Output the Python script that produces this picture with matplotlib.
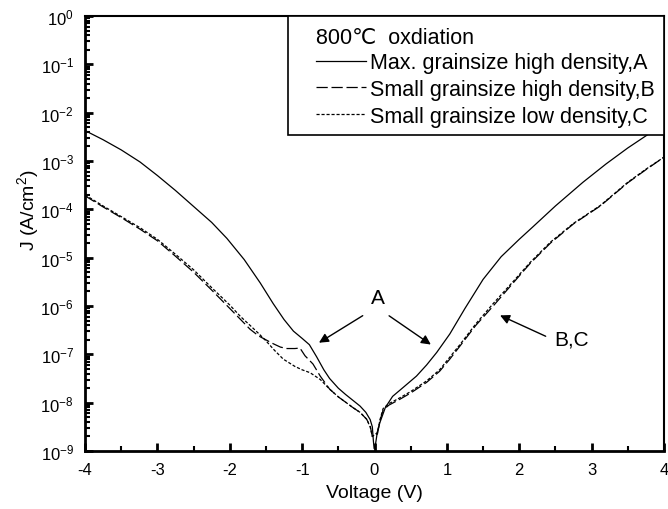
import numpy as np
import matplotlib
matplotlib.use("Agg")
import matplotlib.pyplot as plt
from matplotlib.lines import Line2D
from matplotlib.patches import Rectangle

plt.rcParams['font.family'] = ['Liberation Sans', 'DejaVu Sans']
plt.rcParams['mathtext.fontset'] = 'custom'
plt.rcParams['mathtext.rm'] = 'Liberation Sans'
plt.rcParams['mathtext.it'] = 'Liberation Sans'

# ---- data (voltage in V, -log10 of current density J in A/cm^2) ----
vA = [-4.0, -3.75, -3.5, -3.24, -3.0, -2.75, -2.5, -2.25, -2.04, -1.8, -1.58, -1.4, -1.25, -1.12, -1.0, -0.9,
      -0.8, -0.7, -0.62, -0.5, -0.4, -0.3, -0.2, -0.12, -0.06, -0.03, -0.015, -0.005,
      0.01, 0.04, 0.075, 0.15, 0.25, 0.4, 0.58, 0.72, 0.86, 1.04, 1.25, 1.5, 1.75, 2.0, 2.19, 2.5, 2.88, 3.2, 3.5, 3.8, 4.0]
logA = [2.37, 2.56, 2.77, 3.02, 3.30, 3.61, 3.94, 4.27, 4.60, 5.04, 5.52, 5.95, 6.28, 6.52, 6.67, 6.80,
        7.05, 7.32, 7.50, 7.70, 7.83, 7.95, 8.07, 8.20, 8.35, 8.50, 8.80, 8.95,
        8.90, 8.60, 8.41, 8.10, 7.87, 7.68, 7.45, 7.22, 6.96, 6.58, 6.05, 5.45, 4.98, 4.62, 4.36, 3.93, 3.44, 3.06, 2.73, 2.43, 2.23]
jA = [10 ** -v for v in logA]

vB = [-4.0, -3.75, -3.5, -3.24, -3.0, -2.75, -2.5, -2.25, -2.0, -1.85, -1.72, -1.6, -1.5, -1.4, -1.3, -1.21, -1.1, -1.03, -0.96,
      -0.85, -0.75, -0.62, -0.5, -0.39, -0.3, -0.2, -0.11, -0.06, -0.03,
      0.04, 0.08, 0.12, 0.2, 0.35, 0.5, 0.72, 0.9, 1.04, 1.18, 1.4, 1.64, 1.9, 2.15, 2.43, 2.75, 3.12, 3.5, 3.75, 4.0]
logB = [3.72, 3.95, 4.17, 4.41, 4.65, 4.97, 5.30, 5.67, 6.05, 6.28, 6.48, 6.62, 6.70, 6.78, 6.85, 6.88, 6.88, 6.87, 7.03,
        7.20, 7.45, 7.72, 7.88, 8.00, 8.10, 8.20, 8.34, 8.48, 8.70,
        8.65, 8.35, 8.15, 8.05, 7.93, 7.80, 7.58, 7.35, 7.10, 6.83, 6.40, 6.00, 5.55, 5.12, 4.70, 4.30, 3.93, 3.45, 3.18, 2.92]
jB = [10 ** -v for v in logB]

vC = [-4.0, -3.75, -3.5, -3.24, -3.0, -2.75, -2.5, -2.25, -2.0, -1.85, -1.72, -1.6, -1.5, -1.38, -1.26, -1.1, -1.0, -0.89,
      -0.75, -0.62, -0.5, -0.39, -0.3, -0.2, -0.11, -0.06, -0.03,
      0.04, 0.08, 0.12, 0.2, 0.35, 0.5, 0.72, 0.9, 1.04, 1.18, 1.4, 1.64, 1.9, 2.15, 2.43, 2.75, 3.12, 3.5, 3.75, 4.0]
logC = [3.70, 3.93, 4.15, 4.38, 4.62, 4.93, 5.25, 5.62, 5.98, 6.22, 6.40, 6.57, 6.72, 6.92, 7.10, 7.25, 7.32, 7.38,
        7.52, 7.72, 7.88, 8.00, 8.10, 8.20, 8.34, 8.50, 8.70,
        8.62, 8.33, 8.12, 8.02, 7.90, 7.77, 7.55, 7.32, 7.06, 6.80, 6.37, 5.95, 5.52, 5.10, 4.68, 4.29, 3.92, 3.44, 3.17, 2.92]
jC = [10 ** -v for v in logC]

labels = ["Max. grainsize high density,A", "Small grainsize high density,B", "Small grainsize low density,C"]
legend_title = "800\u2103  oxdiation"
xticks = [-4, -3, -2, -1, 0, 1, 2, 3, 4]
ydecades = list(range(0, -10, -1))

W, H = 668, 510
AX_L, AX_R, AX_T, AX_B = 85, 664, 17, 452
fig = plt.figure(figsize=(W / 100, H / 100), dpi=100)
ax = fig.add_axes([AX_L / W, 1 - AX_B / H, (AX_R - AX_L) / W, (AX_B - AX_T) / H])


def ax_frac(px, py):
    return (px - AX_L) / (AX_R - AX_L), (AX_B - py) / (AX_B - AX_T)


dashB = (0, (9, 3))
dashC = (0, (2.5, 1.5))
ax.plot(vA, jA, color='black', lw=0.9, ls='-')
ax.plot(vB, jB, color='black', lw=0.9, ls=dashB)
ax.plot(vC, jC, color='black', lw=0.9, ls=dashC)

ax.set_yscale('log')
ax.set_xlim(-4, 4)
ax.set_ylim(1e-9, 1)
ax.set_xticks(xticks)
ax.set_xticklabels([str(t) for t in xticks], fontsize=12)
ax.set_xticks(np.arange(-3.5, 4, 1.0), minor=True)
ax.set_yticks([10.0 ** d for d in ydecades])
ax.set_yticklabels([r'10$^{%d}$' % d for d in ydecades], fontsize=12)
ax.yaxis.set_minor_locator(matplotlib.ticker.LogLocator(base=10, subs=np.arange(2, 10), numticks=20))
ax.yaxis.set_minor_formatter(matplotlib.ticker.NullFormatter())

ax.tick_params(axis='both', which='major', direction='in', length=6, width=2, top=False, right=False)
ax.tick_params(axis='both', which='minor', direction='in', length=3.5, width=1.5, top=False, right=False)
ax.tick_params(axis='x', which='major', pad=8)
ax.tick_params(axis='y', which='major', pad=8)
for s in ['left', 'bottom']:
    ax.spines[s].set_linewidth(2.0)
for s in ['top', 'right']:
    ax.spines[s].set_linewidth(1.5)

ax.set_xlabel('Voltage (V)', fontsize=14, labelpad=5)
ax.set_ylabel('J (A/cm$^{2}$)', fontsize=14)
ax.yaxis.set_label_coords(*ax_frac(41, 210))

# legend frame drawn as a rectangle, legend entries without frame
fx0, fy0 = ax_frac(288, 136)
fx1, fy1 = ax_frac(664, 17)
ax.add_patch(Rectangle((fx0, fy0), fx1 - fx0, fy1 - fy0, transform=ax.transAxes,
                       facecolor='white', edgecolor='black', lw=1.2, zorder=5))
handles = [Line2D([], [], color='black', lw=0.9, ls='-'),
           Line2D([], [], color='black', lw=0.9, ls=dashB),
           Line2D([], [], color='black', lw=0.9, ls=dashC)]
leg = ax.legend(handles, labels, title=legend_title, loc='upper left', bbox_to_anchor=ax_frac(316, 28),
                fontsize=15.5, title_fontsize=15.5, frameon=False, borderpad=0,
                handlelength=2.3, handletextpad=0.2, labelspacing=0.27, borderaxespad=0)
leg._legend_box.align = 'left'
leg._legend_box.sep = 3
leg.set_zorder(6)

# annotations
ax.annotate('', xy=(-0.80, 10 ** -6.79), xytext=(-0.13, 10 ** -6.17),
            arrowprops=dict(arrowstyle='-|>', color='black', lw=1.0, mutation_scale=14))
ax.annotate('', xy=(0.81, 10 ** -6.83), xytext=(0.17, 10 ** -6.17),
            arrowprops=dict(arrowstyle='-|>', color='black', lw=1.0, mutation_scale=14))
ax.text(0.05, 10 ** -5.82, 'A', ha='center', va='center', fontsize=15)
ax.annotate('', xy=(1.70, 10 ** -6.17), xytext=(2.40, 10 ** -6.65),
            arrowprops=dict(arrowstyle='-|>', color='black', lw=1.0, mutation_scale=14))
ax.text(2.72, 10 ** -6.69, 'B,C', ha='center', va='center', fontsize=15)

fig.savefig('out.png', dpi=100)
